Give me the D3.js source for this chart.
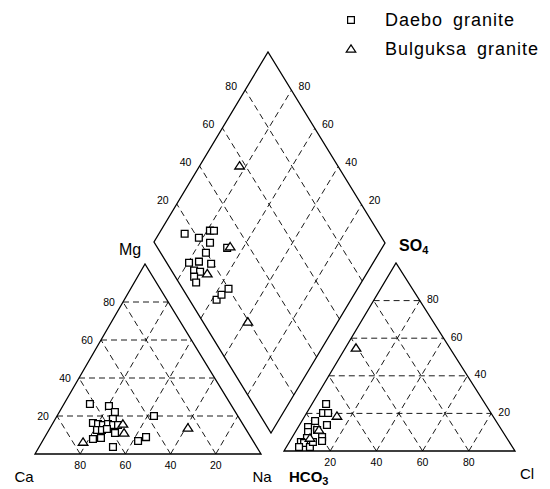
<!DOCTYPE html>
<html>
<head>
<meta charset="utf-8">
<script src="https://cdn.jsdelivr.net/npm/d3@7"></script>
<style>
  body { margin: 0; background: #fff; }
  text { font-family: "Liberation Sans", Arial, sans-serif; fill: #000; }
</style>
</head>
<body>
<div id="chart"></div>
<script>
//cation triangle samples: [Na+K %, Mg %]
var cationDaebo = [[11.5,26.3],[20.4,25.3],[24.6,22.1],[25.5,18.4],[17.7,16.3],[20.2,15.8],[22.6,15.3],
  [24.6,15.8],[27.1,15.3],[29.3,15.3],[21.3,12.6],[23.5,12.6],[25.4,13.2],[30,11.1],[21.8,7.9],
  [25.1,8.4],[32.7,3.7],[42.3,6.8],[44.8,8.9],[42.9,20]];
var cationBulguksa = [[31.2,15.8],[34,11.1],[18.2,6.3],[61,13.7]];

//anion triangle samples: [Cl %, SO4 %]
var anionDaebo = [[6.1,25],[7.1,20.2],[9.3,20.2],[5.7,16],[4.2,12.8],[11.9,13.8],[8.9,11.2],[5.5,10.1],
  [12.9,7.4],[13.9,5.3],[6.6,6.9],[5,4.8],[6.6,4.3],[10.2,2.1],[5.5,2.1],[10.2,4.8]];
var anionBulguksa = [[13.9,18.6],[4.6,54.8],[9.7,11.2],[7.9,6.9]];

//diamond samples: [SO4+Cl %, Ca+Mg %]
var diamondDaebo = [[15.5,88.9],[20.6,81.7],[27.3,78.8],[29,77],[24.1,75.6],[19.7,74.8],[9.7,79.5],
  [14.3,75.5],[19,69.7],[9.8,75.3],[12.1,72.4],[8.2,73.7],[7.5,71.3],[11.8,58],[15.3,57.2],[19.9,55.7],
  [30.2,66.9]];
var diamondBulguksa = [[31.8,65.9],[14.7,68.8],[19.5,38.8],[57.4,82.8]];

var gridSteps = [20, 40, 60, 80];

var legendItems = [
  {label: "Daebo granite", symbol: "square"},
  {label: "Bulguksa granite", symbol: "triangle"}
];

var w = 550, h = 489;

var svg = d3.select("#chart").append("svg")
  .attr("width", w)
  .attr("height", h);

//build a skewed frame: origin + a along u + b along v (a, b in percent)
function makeFrame(o, u, v) {
  var ux = d3.scaleLinear().domain([0, 100]).range([0, u[0]]);
  var uy = d3.scaleLinear().domain([0, 100]).range([0, u[1]]);
  var vx = d3.scaleLinear().domain([0, 100]).range([0, v[0]]);
  var vy = d3.scaleLinear().domain([0, 100]).range([0, v[1]]);
  return function(a, b) { return [o[0] + ux(a) + vx(b), o[1] + uy(a) + vy(b)]; };
}

//left: a = Na+K, b = Mg ; right: a = Cl, b = SO4 ; diamond: a = SO4+Cl, b = Ca+Mg
var cation = makeFrame([35, 454], [226, 0], [110, -190]);
var anion = makeFrame([284, 451], [231, 0], [112, -188]);
var diamond = makeFrame([271, 433], [114, -190], [-117, -191]);

var line = d3.line();

function ternGrid(g, f) {
  var segs = [];
  gridSteps.forEach(function(k) {
    segs.push([f(0, k), f(100 - k, k)]);
    segs.push([f(k, 0), f(k, 100 - k)]);
    segs.push([f(100 - k, 0), f(0, 100 - k)]);
  });
  g.selectAll("path.grid").data(segs).enter().append("path")
    .attr("class", "grid")
    .attr("d", line)
    .attr("fill", "none")
    .attr("stroke", "#000")
    .attr("stroke-width", 0.9)
    .attr("stroke-dasharray", "6,4");
  g.append("path")
    .attr("d", line([f(0, 0), f(100, 0), f(0, 100)]) + "Z")
    .attr("fill", "none")
    .attr("stroke", "#000")
    .attr("stroke-width", 1.3);
}

function diamondGrid(g, f) {
  var segs = [];
  gridSteps.forEach(function(k) {
    segs.push([f(k, 0), f(k, 100)]);
    segs.push([f(0, k), f(100, k)]);
  });
  g.selectAll("path.grid").data(segs).enter().append("path")
    .attr("class", "grid")
    .attr("d", line)
    .attr("fill", "none")
    .attr("stroke", "#000")
    .attr("stroke-width", 0.9)
    .attr("stroke-dasharray", "6,4");
  g.append("path")
    .attr("d", line([f(0, 0), f(100, 0), f(100, 100), f(0, 100)]) + "Z")
    .attr("fill", "none")
    .attr("stroke", "#000")
    .attr("stroke-width", 1.3);
}

var gCat = svg.append("g").attr("class", "cation");
var gAn = svg.append("g").attr("class", "anion");
var gDia = svg.append("g").attr("class", "diamond");

ternGrid(gCat, cation);
ternGrid(gAn, anion);
diamondGrid(gDia, diamond);

//tick labels
function tickLabels(g, data, pos, dx, dy, txt) {
  g.selectAll(null).data(data).enter().append("text")
    .attr("x", function(k) { return pos(k)[0] + dx; })
    .attr("y", function(k) { return pos(k)[1] + dy; })
    .attr("text-anchor", "middle")
    .attr("dy", "0.35em")
    .attr("font-size", 10.5)
    .text(txt);
}

tickLabels(gCat, gridSteps, function(k) { return cation(0, k); }, -14, 0, function(k) { return k; });
tickLabels(gCat, gridSteps, function(k) { return cation(k, 0); }, 0, 11, function(k) { return 100 - k; });
tickLabels(gAn, gridSteps, function(k) { return anion(100 - k, k); }, 13, -1, function(k) { return k; });
tickLabels(gAn, gridSteps, function(k) { return anion(k, 0); }, 0, 11, function(k) { return k; });
tickLabels(gDia, gridSteps, function(k) { return diamond(k, 100); }, -14, -4, function(k) { return k; });
tickLabels(gDia, gridSteps, function(k) { return diamond(100, k); }, 13, -4, function(k) { return k; });

//markers
var squarePath = d3.symbol().type(d3.symbolSquare).size(46)();
var trianglePath = "M0,-4.2L4.8,3.2L-4.8,3.2Z";

function plotPoints(g, data, f, shape) {
  g.selectAll(null).data(data).enter().append("path")
    .attr("d", shape)
    .attr("transform", function(d) { var p = f(d[0], d[1]); return "translate(" + p[0] + "," + p[1] + ")"; })
    .attr("fill", "#fff")
    .attr("stroke", "#000")
    .attr("stroke-width", 1.3);
}

plotPoints(gCat, cationDaebo, cation, squarePath);
plotPoints(gCat, cationBulguksa, cation, trianglePath);
plotPoints(gAn, anionDaebo, anion, squarePath);
plotPoints(gAn, anionBulguksa, anion, trianglePath);
plotPoints(gDia, diamondDaebo, diamond, squarePath);
plotPoints(gDia, diamondBulguksa, diamond, trianglePath);

//corner labels
var labels = svg.append("g").attr("class", "labels");
labels.append("text").attr("x", 130).attr("y", 255).attr("text-anchor", "middle")
  .attr("font-size", 16).text("Mg");
labels.append("text").attr("x", 24).attr("y", 482).attr("text-anchor", "middle")
  .attr("font-size", 15).text("Ca");
labels.append("text").attr("x", 262).attr("y", 482).attr("text-anchor", "middle")
  .attr("font-size", 15).text("Na");
labels.append("text").attr("x", 527).attr("y", 479).attr("text-anchor", "middle")
  .attr("font-size", 15).text("Cl");

var so4 = labels.append("text").attr("x", 399).attr("y", 251)
  .attr("font-size", 16).attr("font-weight", "bold");
so4.append("tspan").text("SO");
so4.append("tspan").attr("font-size", 11).attr("dy", 3).text("4");

var hco3 = labels.append("text").attr("x", 289).attr("y", 482)
  .attr("font-size", 15).attr("font-weight", "bold");
hco3.append("tspan").text("HCO");
hco3.append("tspan").attr("font-size", 11).attr("dy", 3).text("3");

//legend
var legend = svg.append("g").attr("class", "legend");
var legendY = d3.scalePoint().domain(legendItems.map(function(d) { return d.label; })).range([20, 49]);

legend.selectAll("path").data(legendItems).enter().append("path")
  .attr("d", function(d) { return d.symbol === "square" ? squarePath : trianglePath; })
  .attr("transform", function(d) { return "translate(351," + legendY(d.label) + ")"; })
  .attr("fill", "#fff")
  .attr("stroke", "#000")
  .attr("stroke-width", 1.2);

legend.selectAll("text").data(legendItems).enter().append("text")
  .attr("x", 385)
  .attr("y", function(d) { return legendY(d.label) + 6; })
  .attr("font-size", 18)
  .attr("word-spacing", 4)
  .attr("letter-spacing", 1)
  .text(function(d) { return d.label; });
</script>
</body>
</html>
